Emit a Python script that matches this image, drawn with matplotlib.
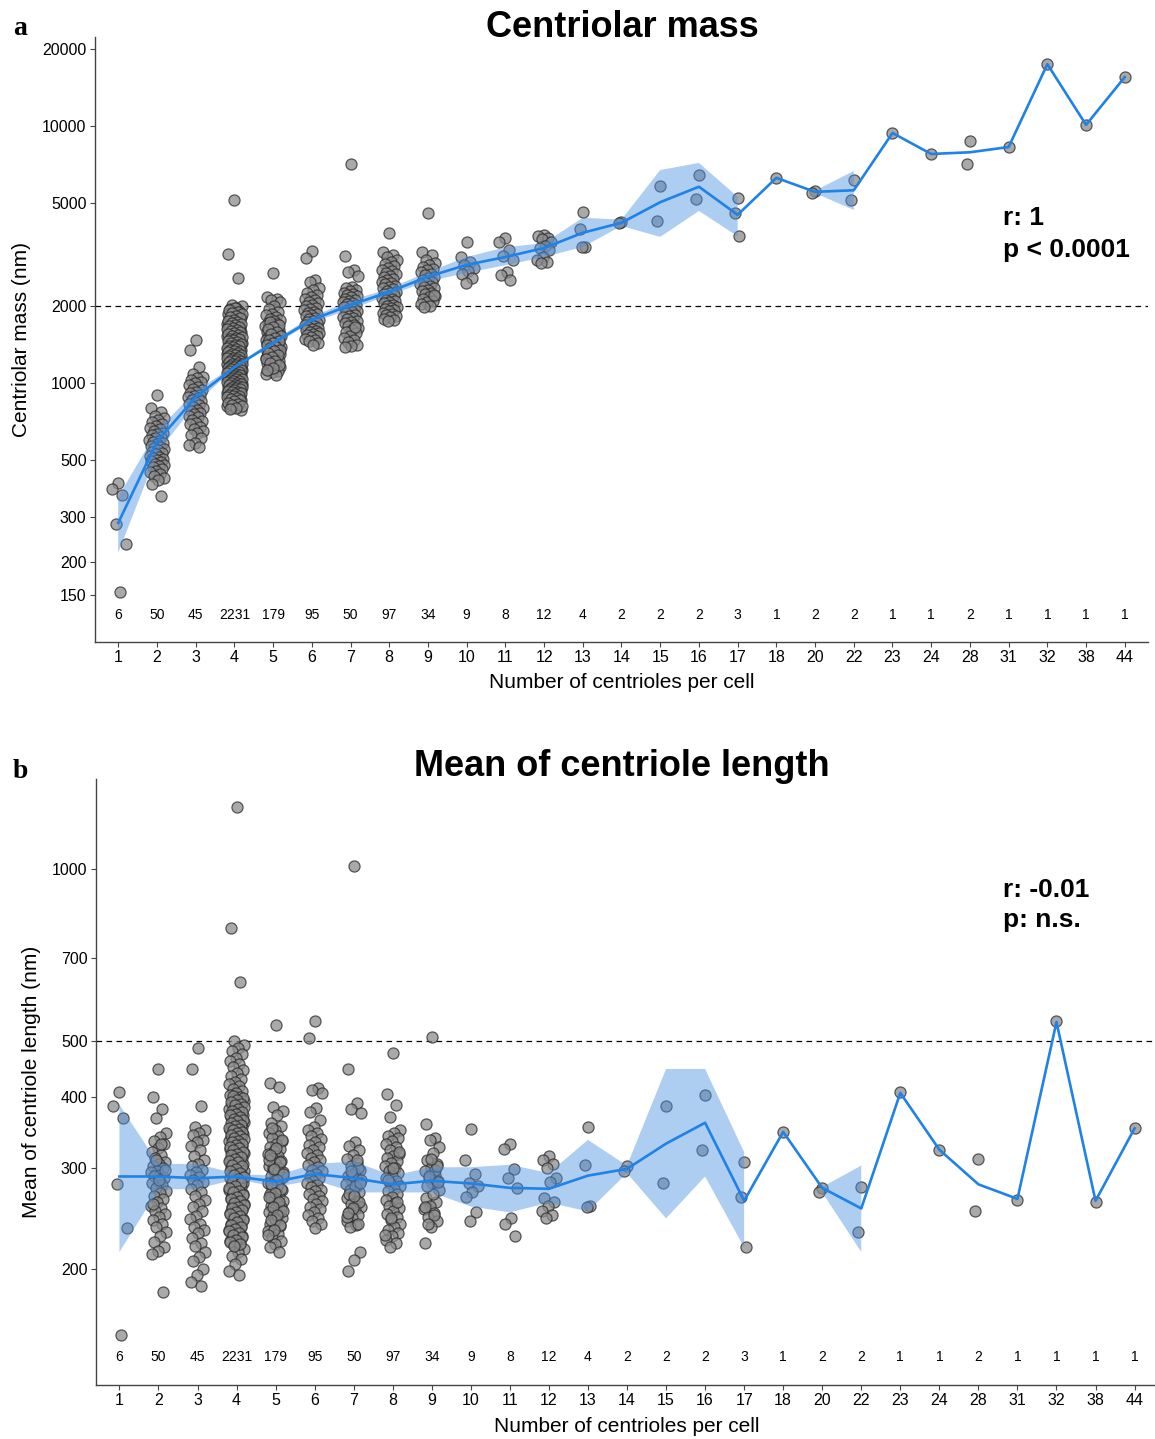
import numpy as np
import matplotlib
matplotlib.use('Agg')
import matplotlib.pyplot as plt
from matplotlib.ticker import FixedLocator, FixedFormatter, NullLocator

nan = np.nan

categories = ['1', '2', '3', '4', '5', '6', '7', '8', '9', '10', '11', '12', '13', '14',
              '15', '16', '17', '18', '20', '22', '23', '24', '28', '31', '32', '38', '44']
counts = [6, 50, 45, 2231, 179, 95, 50, 97, 34, 9, 8, 12, 4, 2, 2, 2, 3, 1, 2, 2,
          1, 1, 2, 1, 1, 1, 1]

# panel a: centriolar mass (nm)
mass_points = [
    [408, 387, 367, 283, 236, 154],
    [898, 800, 770, 745, 730, 720, 705, 690, 680, 670, 660, 650, 640, 630, 625, 615, 610,
     600, 595, 590, 585, 578, 570, 565, 560, 555, 548, 540, 535, 528, 520, 515, 510, 505,
     500, 495, 490, 485, 480, 475, 470, 462, 455, 450, 440, 432, 427, 420, 405, 363],
    [1470, 1344, 1154, 1080, 1055, 1040, 1027, 1010, 995, 980, 965, 950, 940, 925, 910,
     900, 890, 880, 870, 860, 850, 840, 830, 820, 806, 795, 785, 775, 765, 755, 745, 735,
     720, 710, 700, 690, 674, 660, 650, 640, 628, 610, 584, 575, 564],
    [5150, 3180, 2560, 2010, 1985, 1960, 1935, 1905, 1880, 1862, 1840, 1815, 1798, 1776,
     1752, 1735, 1718, 1702, 1688, 1671, 1655, 1642, 1628, 1611, 1597, 1583, 1570, 1558,
     1545, 1531, 1519, 1507, 1494, 1483, 1471, 1459, 1448, 1437, 1425, 1414, 1403, 1392,
     1382, 1371, 1361, 1351, 1341, 1331, 1322, 1312, 1303, 1294, 1285, 1276, 1267, 1258,
     1250, 1241, 1233, 1225, 1217, 1209, 1201, 1193, 1185, 1178, 1170, 1163, 1155, 1148,
     1141, 1134, 1127, 1120, 1113, 1106, 1099, 1093, 1086, 1080, 1073, 1067, 1061, 1054,
     1048, 1042, 1036, 1030, 1024, 1018, 1012, 1006, 1000, 994, 988, 982, 976, 970, 964,
     958, 952, 946, 940, 934, 928, 922, 916, 910, 903, 896, 889, 882, 875, 867, 859, 851,
     843, 834, 825, 815, 805, 795, 785,
     1948, 1921, 1893, 1871, 1851, 1828, 1806, 1787, 1764, 1744, 1727, 1710, 1695, 1679,
     1663, 1648, 1635, 1619, 1604, 1590, 1577, 1564, 1551, 1538, 1525, 1513, 1500, 1488,
     1477, 1465, 1453, 1442, 1431, 1419, 1408, 1397, 1387, 1376, 1366, 1356, 1346, 1336,
     1326, 1317, 1307, 1298, 1289, 1280, 1271, 1262, 1254, 1245, 1237, 1229, 1221, 1213,
     1205, 1197, 1189, 1181, 1174, 1166, 1159, 1151, 1144, 1137, 1130, 1123, 1116, 1109,
     1102, 1096, 1089, 1083, 1076, 1070, 1064, 1057, 1051, 1045, 1039, 1033, 1027, 1021,
     1015, 1009, 1003, 997, 991, 985, 979, 973, 967, 961, 955, 949, 943, 937, 931, 925,
     919, 913, 906, 899, 892, 885, 878, 871, 863, 855, 847, 838, 829, 820, 810, 800, 790],
    [2680, 2150, 2120, 2095, 2060, 1990, 1940, 1890, 1860, 1830, 1805, 1780, 1755, 1735,
     1712, 1695, 1676, 1658, 1640, 1622, 1605, 1590, 1574, 1560, 1545, 1531, 1518, 1505,
     1492, 1480, 1468, 1456, 1444, 1433, 1422, 1411, 1400, 1390, 1380, 1370, 1360, 1350,
     1340, 1330, 1320, 1310, 1300, 1290, 1280, 1270, 1259, 1248, 1237, 1226, 1215, 1203,
     1191, 1179, 1166, 1153, 1140, 1127, 1113, 1098, 1085, 1074,
     1725, 1685, 1650, 1615, 1582, 1552, 1525, 1498, 1474, 1450, 1428, 1405, 1385, 1365,
     1345, 1325, 1305, 1285, 1264, 1242, 1220, 1197, 1172, 1146, 1120],
    [3270, 3060, 2520, 2470, 2330, 2290, 2240, 2200, 2165, 2130, 2100, 2070, 2040, 2010,
     1985, 1960, 1938, 1915, 1893, 1872, 1852, 1832, 1813, 1795, 1777, 1760, 1743, 1727,
     1711, 1695, 1680, 1665, 1650, 1636, 1622, 1608, 1594, 1580, 1566, 1552, 1538, 1522,
     1505, 1488, 1470, 1450, 1430, 1405],
    [7110, 3120, 2750, 2690, 2600, 2360, 2330, 2300, 2270, 2245, 2220, 2195, 2170, 2150,
     2128, 2106, 2085, 2065, 2045, 2025, 2005, 1985, 1965, 1945, 1925, 1905, 1885, 1865,
     1845, 1825, 1805, 1785, 1765, 1745, 1725, 1705, 1685, 1660, 1635, 1610, 1580, 1560,
     1520, 1500, 1470, 1440, 1410, 1390, 1380, 1650],
    [3830, 3240, 3150, 3090, 3010, 2950, 2900, 2850, 2805, 2760, 2720, 2680, 2645, 2610,
     2575, 2540, 2510, 2480, 2450, 2420, 2392, 2365, 2338, 2312, 2287, 2262, 2238, 2214,
     2190, 2167, 2145, 2123, 2101, 2080, 2059, 2038, 2018, 1998, 1978, 1958, 1938, 1918,
     1898, 1878, 1858, 1838, 1818, 1798, 1778, 1760, 1745],
    [4590, 3240, 3150, 3010, 2930, 2880, 2830, 2780, 2740, 2700, 2660, 2620, 2585, 2550,
     2515, 2480, 2450, 2420, 2390, 2360, 2330, 2300, 2270, 2240, 2210, 2180, 2150, 2120,
     2090, 2060, 2030, 2000, 1980, 2200],
    [3540, 3090, 2950, 2880, 2800, 2720, 2650, 2560, 2450],
    [3670, 3540, 3290, 3120, 3010, 2700, 2630, 2520],
    [3760, 3720, 3680, 3620, 3520, 3400, 3350, 3280, 3100, 3000, 2960, 2930],
    [4630, 3980, 3390, 3370],
    [4230, 4180],
    [5840, 4270],
    [6460, 5200],
    [5250, 4590, 3730],
    [6280],
    [5600, 5480],
    [6170, 5150],
    [9390],
    [7780],
    [8760, 7110],
    [8280],
    [17400],
    [10100],
    [15500],
]
mass_mean = [285, 590, 880, 1150, 1430, 1760, 2010, 2260, 2590, 2880, 3090, 3350, 3840,
             4200, 5050, 5800, 4510, 6280, 5540, 5620, 9390, 7780, 7900, 8280, 17400,
             10100, 15500]
mass_lo = [218, 530, 830, 1140, 1400, 1720, 1930, 2200, 2480, 2680, 2870, 3090, 3380,
           4080, 3700, 4670, 3720, nan, 5480, 4710, nan, nan, nan, nan, nan, nan, nan]
mass_hi = [360, 650, 930, 1165, 1460, 1810, 2090, 2330, 2700, 3090, 3370, 3500, 4390,
           4320, 6740, 7180, 5300, nan, 5600, 6680, nan, nan, nan, nan, nan, nan, nan]

# panel b: mean centriole length (nm)
length_points = [
    [407, 385, 367, 281, 236, 153],
    [447, 400, 380, 367, 345, 340, 335, 330, 325, 320, 316, 312, 308, 305, 302, 300, 297,
     295, 292, 290, 288, 285, 283, 280, 277, 274, 271, 268, 265, 262, 258, 255, 252, 249,
     246, 243, 240, 237, 232, 228, 223, 218, 215, 212, 330, 310, 298, 286, 260, 182],
    [487, 447, 385, 354, 350, 346, 343, 336, 333, 328, 323, 315, 310, 305, 302, 298, 295,
     292, 289, 286, 284, 280, 276, 272, 268, 264, 260, 257, 252, 247, 244, 240, 237, 234,
     231, 226, 222, 219, 214, 210, 206, 200, 195, 190, 187],
    [1284, 788, 634, 500, 493, 487, 481, 474, 468, 462, 456, 450, 445, 440, 435, 430, 425,
     421, 417, 413, 409, 405, 402, 399, 396, 393, 390, 388, 385, 382, 380, 377, 375, 372,
     370, 368, 365, 363, 361, 359, 356, 354, 352, 350, 348, 346, 344, 342, 340, 338, 336,
     334, 332, 330, 328, 326, 324, 322, 321, 319, 317, 315, 313, 312, 310, 308, 306, 305,
     303, 301, 300, 298, 296, 295, 293, 291, 290, 288, 286, 285, 283, 281, 280, 278, 276,
     275, 273, 271, 270, 268, 266, 264, 262, 260, 258, 256, 254, 252, 250, 248, 246, 244,
     242, 240, 238, 236, 234, 232, 230, 228, 226, 224, 222, 220, 217, 214, 211, 208, 204,
     198, 195,
     401, 397, 394, 391, 389, 386, 383, 381, 378, 376, 373, 371, 369, 366, 364, 362, 360,
     357, 355, 353, 351, 349, 347, 345, 343, 341, 339, 337, 335, 333, 331, 329, 327, 325,
     323, 320, 318, 316, 314, 311, 309, 307, 304, 302, 299, 297, 294, 292, 289, 287, 284,
     282, 279, 277, 274, 272, 269, 267, 265, 263, 261, 259, 257, 255, 253, 251, 249, 247,
     245, 243, 241, 239, 237, 235, 233, 231, 229, 227, 225, 223, 221, 219],
    [534, 422, 416, 384, 378, 372, 360, 355, 350, 346, 342, 338, 334, 330, 327, 324, 321,
     318, 315, 312, 309, 306, 303, 300, 298, 295, 292, 290, 287, 285, 282, 280, 277, 275,
     272, 270, 268, 265, 263, 261, 258, 256, 254, 251, 249, 247, 245, 242, 240, 238, 235,
     233, 230, 227, 224, 221, 218, 214, 301, 289, 279, 266, 253, 244, 310, 297,
     352, 336, 325, 316, 307, 299, 293, 286, 281, 276, 271, 267, 262, 257, 252, 248, 243,
     239, 234, 229],
    [542, 506, 414, 410, 406, 382, 376, 364, 354, 349, 345, 341, 337, 333, 329, 326, 322,
     319, 316, 313, 310, 307, 304, 301, 298, 296, 293, 290, 288, 285, 283, 280, 278, 275,
     273, 270, 268, 265, 263, 260, 257, 254, 251, 248, 245, 242, 240, 236],
    [1012, 447, 390, 380, 375, 333, 328, 322, 316, 311, 306, 302, 298, 294, 290, 287, 284,
     281, 278, 275, 272, 269, 266, 263, 260, 257, 254, 251, 248, 245, 242, 239, 237, 214,
     207, 198, 300, 292, 286, 279, 270, 262, 255, 246, 310, 296, 283, 268, 250, 240],
    [477, 404, 387, 369, 350, 346, 342, 338, 334, 330, 326, 322, 318, 315, 312, 309, 306,
     303, 300, 297, 294, 291, 288, 285, 282, 279, 276, 273, 270, 267, 264, 261, 258, 255,
     252, 249, 246, 243, 240, 237, 234, 231, 228, 225, 222, 218, 320, 300, 286, 262, 245,
     229],
    [508, 358, 339, 336, 326, 319, 310, 305, 300, 296, 292, 288, 285, 282, 266, 262, 258,
     254, 250, 246, 242, 237, 222, 298, 290, 275, 270, 279, 303, 311, 256, 248, 240, 284],
    [351, 310, 293, 283, 279, 272, 267, 251, 242],
    [331, 324, 299, 288, 277, 245, 240, 228],
    [315, 310, 305, 300, 288, 284, 266, 262, 258, 252, 248, 245],
    [354, 304, 258, 257],
    [303, 296],
    [385, 282],
    [403, 323],
    [308, 267, 218],
    [347],
    [277, 272],
    [278, 232],
    [407],
    [323],
    [311, 252],
    [264],
    [542],
    [262],
    [353],
]
length_mean = [290, 290, 288, 290, 284, 293, 288, 281, 285, 282, 277, 276, 291, 299, 331,
               360, 263, 347, 277, 255, 406, 323, 281, 265, 540, 263, 352]
length_lo = [214, 275, 276, 287, 278, 286, 272, 272, 272, 257, 251, 261, 252, 294, 245,
             290, 218, nan, 272, 214, nan, nan, nan, nan, nan, nan, nan]
length_hi = [387, 305, 305, 293, 291, 305, 308, 291, 301, 301, 304, 294, 336, 303, 447,
             447, 320, nan, 278, 303, nan, nan, nan, nan, nan, nan, nan]

plt.rcParams['font.family'] = ['Liberation Sans', 'DejaVu Sans']

W, H = 1155, 1439
fig = plt.figure(figsize=(W / 100, H / 100), dpi=100)


def jitter(n, width=0.2):
    i = np.arange(n)
    return ((i * 0.618034 + 0.5) % 1.0 - 0.5) * 2 * width


def draw_panel(ax, points, mean, lo, hi, yticks, ylim, ref, count_y, ylabel, ylabel_x):
    x = np.arange(len(categories))
    for k, vals in enumerate(points):
        w = 0.2 if len(vals) > 4 else 0.1
        ax.scatter(k + jitter(len(vals), w), vals, s=64, facecolor='#8c8c8c',
                   edgecolor='#2a2a2a', linewidth=0.9, alpha=0.75, zorder=2)
    ax.fill_between(x, lo, hi, color='#4A90E2', alpha=0.45, linewidth=0, zorder=3)
    ax.plot(x, mean, color='#1E82E6', lw=1.9, zorder=4)
    ax.axhline(ref, color='black', lw=0.9, dashes=(4.5, 3.5), zorder=1)
    for k, n in enumerate(counts):
        ax.text(k, count_y, str(n), ha='center', va='center', fontsize=10)

    ax.set_yscale('log')
    ax.set_ylim(*ylim)
    ax.set_xlim(-0.6, len(categories) - 0.4)
    ax.yaxis.set_major_locator(FixedLocator(yticks))
    ax.yaxis.set_major_formatter(FixedFormatter([str(t) for t in yticks]))
    ax.yaxis.set_minor_locator(NullLocator())
    ax.set_xticks(x)
    ax.set_xticklabels(categories)
    for s in ['top', 'right']:
        ax.spines[s].set_visible(False)
    for s in ['left', 'bottom']:
        ax.spines[s].set_color('#444444')
        ax.spines[s].set_linewidth(1.0)
    ax.tick_params(direction='out', length=3.6, width=0.8, color='#444444',
                   labelsize=11.5, pad=2.5)
    ax.set_xlabel('Number of centrioles per cell', fontsize=15)
    ax.set_ylabel(ylabel, fontsize=15)
    ax.xaxis.set_label_coords(0.5, -0.052)
    ax.yaxis.set_label_coords(ylabel_x, 0.5)


ax_a = fig.add_axes([95 / W, 1 - 642 / H, (1148 - 95) / W, (642 - 37) / H])
draw_panel(ax_a, mass_points, mass_mean, mass_lo, mass_hi,
           [150, 200, 300, 500, 1000, 2000, 5000, 10000, 20000], (98, 22200), 2000, 125,
           'Centriolar mass (nm)', -0.061)

ax_b = fig.add_axes([96 / W, 1 - 1385 / H, 1062 / W, (1385 - 779) / H])
draw_panel(ax_b, length_points, length_mean, length_lo, length_hi,
           [200, 300, 400, 500, 700, 1000], (125.3, 1436), 500, 140,
           'Mean of centriole length (nm)', -0.052)

# titles, panel letters and stats
fig.text(622 / W, 1 - 37 / H, 'Centriolar mass', ha='center', va='baseline',
         fontsize=26, fontweight='bold')
fig.text(622 / W, 1 - 776 / H, 'Mean of centriole length', ha='center', va='baseline',
         fontsize=26, fontweight='bold')
fig.text(13 / W, 1 - 35 / H, 'a', ha='left', va='baseline', fontsize=20,
         fontweight='bold', family=['Liberation Serif', 'DejaVu Serif'])
fig.text(13 / W, 1 - 778 / H, 'b', ha='left', va='baseline', fontsize=20,
         fontweight='bold', family=['Liberation Serif', 'DejaVu Serif'])
fig.text(1003 / W, 1 - 225 / H, 'r: 1', ha='left', va='baseline', fontsize=19,
         fontweight='bold')
fig.text(1003 / W, 1 - 257 / H, 'p < 0.0001', ha='left', va='baseline', fontsize=19,
         fontweight='bold')
fig.text(1003 / W, 1 - 897 / H, 'r: -0.01', ha='left', va='baseline', fontsize=19,
         fontweight='bold')
fig.text(1003 / W, 1 - 927 / H, 'p: n.s.', ha='left', va='baseline', fontsize=19,
         fontweight='bold')

fig.savefig('out.png', dpi=100)
